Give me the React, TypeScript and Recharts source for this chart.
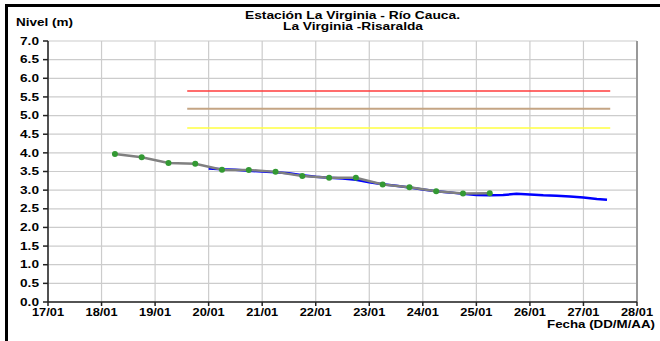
import { LineChart, Line, XAxis, YAxis, CartesianGrid, ReferenceLine } from "recharts";

// niveles observados (lecturas de mira), dia juliano de enero
const diasMira = [18.25, 18.75, 19.25, 19.75, 20.25, 20.75, 21.25, 21.75, 22.25, 22.75, 23.25, 23.75, 24.25, 24.75, 25.25];
const nivelMira = [3.97, 3.88, 3.73, 3.71, 3.55, 3.54, 3.49, 3.38, 3.33, 3.33, 3.15, 3.08, 2.97, 2.91, 2.92];

// sensor automatico
const diasSensor = [
    20.0, 20.25, 20.5, 20.75, 21.0, 21.25, 21.5, 21.75, 22.0, 22.25, 22.5, 22.75, 23.0, 23.25, 23.5, 23.75,
    24.0, 24.25, 24.5, 24.75, 25.0, 25.25, 25.5, 25.75, 26.0, 26.25, 26.5, 26.75, 27.0, 27.25, 27.44,
];
const nivelSensor = [
    3.58, 3.56, 3.55, 3.52, 3.5, 3.48, 3.45, 3.4, 3.36, 3.33, 3.31, 3.28, 3.21, 3.16, 3.12, 3.07,
    3.02, 2.97, 2.94, 2.9, 2.87, 2.86, 2.87, 2.9, 2.88, 2.86, 2.85, 2.83, 2.8, 2.76, 2.74,
];

// umbrales de alerta
const alertaInicio = 19.6;
const alertaFin = 27.5;
const alertaRoja = 5.66;
const alertaNaranja = 5.18;
const alertaAmarilla = 4.67;

const diasEje = [17, 18, 19, 20, 21, 22, 23, 24, 25, 26, 27, 28];
const nivelesEje = [0, 0.5, 1, 1.5, 2, 2.5, 3, 3.5, 4, 4.5, 5, 5.5, 6, 6.5, 7];

const mira = diasMira.map((d, i) => ({ dia: d, nivel: nivelMira[i] }));
const sensor = diasSensor.map((d, i) => ({ dia: d, nivel: nivelSensor[i] }));
const umbral = (v: number) => [
    { dia: alertaInicio, nivel: v },
    { dia: alertaFin, nivel: v },
];

// la fuente del original esta estirada a lo ancho, se imita con textLength
const fuente = { fontFamily: "'Liberation Sans', Arial, sans-serif", fontWeight: "bold" as const };

function TickFecha(props: any) {
    const { x, payload } = props;
    return (
        <text x={x} y={316} textAnchor="middle" fontSize={10.5} textLength={32} lengthAdjust="spacingAndGlyphs" style={fuente} fill="#000">
            {`${payload.value}/01`}
        </text>
    );
}

function TickNivel(props: any) {
    const { y, payload } = props;
    return (
        <text x={39} y={y + 3.7} textAnchor="end" fontSize={10.5} textLength={19} lengthAdjust="spacingAndGlyphs" style={fuente} fill="#000">
            {Number(payload.value).toFixed(1)}
        </text>
    );
}

export default function App() {
    return (
        <div style={{ position: "fixed", left: 0, top: 0, width: 660, height: 341, overflow: "hidden", background: "#fff" }}>
            <div
                style={{
                    position: "absolute",
                    left: 5,
                    top: 4,
                    width: 800,
                    height: 500,
                    borderTop: "3px solid #000",
                    borderLeft: "3px solid #000",
                }}
            />
            <div style={{ position: "absolute", left: 0, top: 0 }}>
                <LineChart width={660} height={341} margin={{ top: 41, right: 23, bottom: 9, left: 0 }}>
                    <CartesianGrid stroke="#cccccc" strokeWidth={1.2} />
                    <XAxis
                        type="number"
                        dataKey="dia"
                        domain={[17, 28]}
                        ticks={diasEje}
                        interval={0}
                        height={30}
                        stroke="#222"
                        strokeWidth={1.5}
                        tickSize={4}
                        tick={<TickFecha />}
                        allowDataOverflow
                    />
                    <YAxis
                        type="number"
                        domain={[0, 7]}
                        ticks={nivelesEje}
                        interval={0}
                        width={48}
                        stroke="#222"
                        strokeWidth={1.5}
                        tickSize={5}
                        tick={<TickNivel />}
                    />
                    <ReferenceLine x={28} stroke="#999" strokeWidth={2} />
                    <Line data={umbral(alertaRoja)} dataKey="nivel" stroke="#ff3b3b" strokeWidth={1.5} dot={false} isAnimationActive={false} />
                    <Line data={umbral(alertaNaranja)} dataKey="nivel" stroke="#c4a584" strokeWidth={2} dot={false} isAnimationActive={false} />
                    <Line data={umbral(alertaAmarilla)} dataKey="nivel" stroke="#ffff40" strokeWidth={1.5} dot={false} isAnimationActive={false} />
                    <Line data={sensor} dataKey="nivel" stroke="#0000ff" strokeWidth={2.5} dot={false} isAnimationActive={false} />
                    <Line
                        data={mira}
                        dataKey="nivel"
                        stroke="#808080"
                        strokeWidth={2.5}
                        dot={{ r: 3, fill: "#339933", stroke: "#339933", strokeWidth: 0 }}
                        isAnimationActive={false}
                    />
                    <text x={16} y={26} fontSize={10.5} textLength={57} lengthAdjust="spacingAndGlyphs" style={fuente}>
                        Nivel (m)
                    </text>
                    <text x={245} y={18.5} fontSize={10} textLength={215} lengthAdjust="spacingAndGlyphs" style={fuente}>
                        Estación La Virginia  - Río Cauca.
                    </text>
                    <text x={283} y={30} fontSize={10} textLength={140} lengthAdjust="spacingAndGlyphs" style={fuente}>
                        La Virginia -Risaralda
                    </text>
                    <text x={547} y={327.5} fontSize={10.5} textLength={108} lengthAdjust="spacingAndGlyphs" style={fuente}>
                        Fecha (DD/M/AA)
                    </text>
                </LineChart>
            </div>
        </div>
    );
}
